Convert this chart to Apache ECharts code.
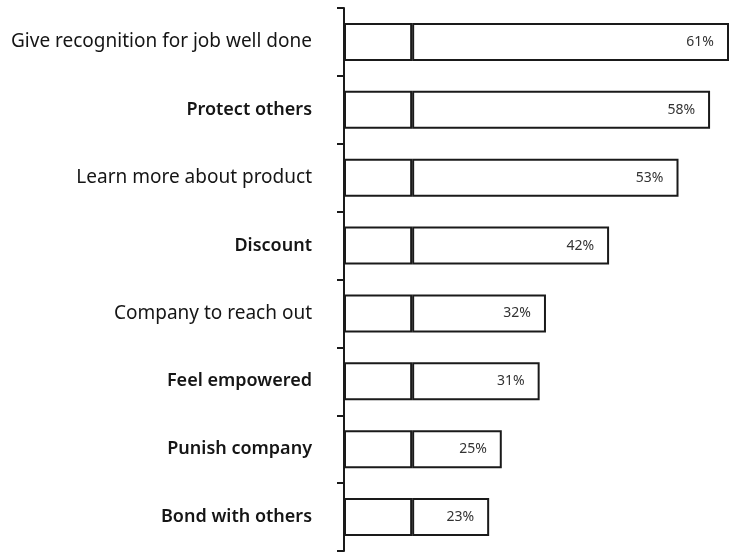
<!DOCTYPE html>
<html>
<head>
<meta charset="utf-8">
<script src="https://cdn.jsdelivr.net/npm/echarts@6/dist/echarts.min.js"></script>
<style>
  html, body { margin: 0; padding: 0; background: #fff; }
  #chart { width: 729px; height: 555px; }
</style>
</head>
<body>
<div id="chart"></div>
<script>
// Reasons people respond to a brand, share of respondents (%)
const categories = [
  'Give recognition for job well done',
  'Protect others',
  'Learn more about product',
  'Discount',
  'Company to reach out',
  'Feel empowered',
  'Punish company',
  'Bond with others'
];
const totals = [61, 58, 53, 42, 32, 31, 25, 23];
// leading block drawn in every bar before the divider
const leadBlock = 10.8;
// short labels are set a little heavier
const heavyLabels = ['Protect others', 'Discount', 'Feel empowered', 'Punish company', 'Bond with others'];

const leadValues = categories.map(() => leadBlock);
const restValues = totals.map(v => v - leadBlock);

const chart = echarts.init(document.getElementById('chart'), null, { renderer: 'canvas' });

const barStyle = { color: '#ffffff', borderColor: '#1a1a1a', borderWidth: 2 };

chart.setOption({
  backgroundColor: '#ffffff',
  animation: false,
  grid: { left: 344, top: 8, right: 0, height: 543 },
  xAxis: {
    type: 'value',
    min: 0,
    max: 61,
    show: false
  },
  yAxis: {
    type: 'category',
    data: categories,
    inverse: true,
    axisLine: { show: true, lineStyle: { color: '#1a1a1a', width: 2 } },
    axisTick: { show: true, length: 7, lineStyle: { color: '#1a1a1a', width: 2 } },
    axisLabel: {
      margin: 32,
      fontFamily: 'Noto Sans',
      fontSize: 19,
      color: '#151515',
      formatter: v => heavyLabels.includes(v) ? '{h|' + v + '}' : v,
      rich: {
        h: { fontFamily: 'Noto Sans', fontSize: 18, fontWeight: 600, color: '#151515' }
      }
    }
  },
  series: [
    {
      type: 'bar',
      stack: 'total',
      barWidth: 38,
      data: leadValues,
      itemStyle: barStyle,
      silent: true
    },
    {
      type: 'bar',
      stack: 'total',
      barWidth: 38,
      data: restValues,
      itemStyle: barStyle,
      label: {
        show: true,
        position: 'insideRight',
        distance: 15,
        fontFamily: 'Noto Sans',
        fontSize: 14,
        color: '#333333',
        formatter: p => totals[p.dataIndex] + '%'
      }
    }
  ]
});
</script>
</body>
</html>
